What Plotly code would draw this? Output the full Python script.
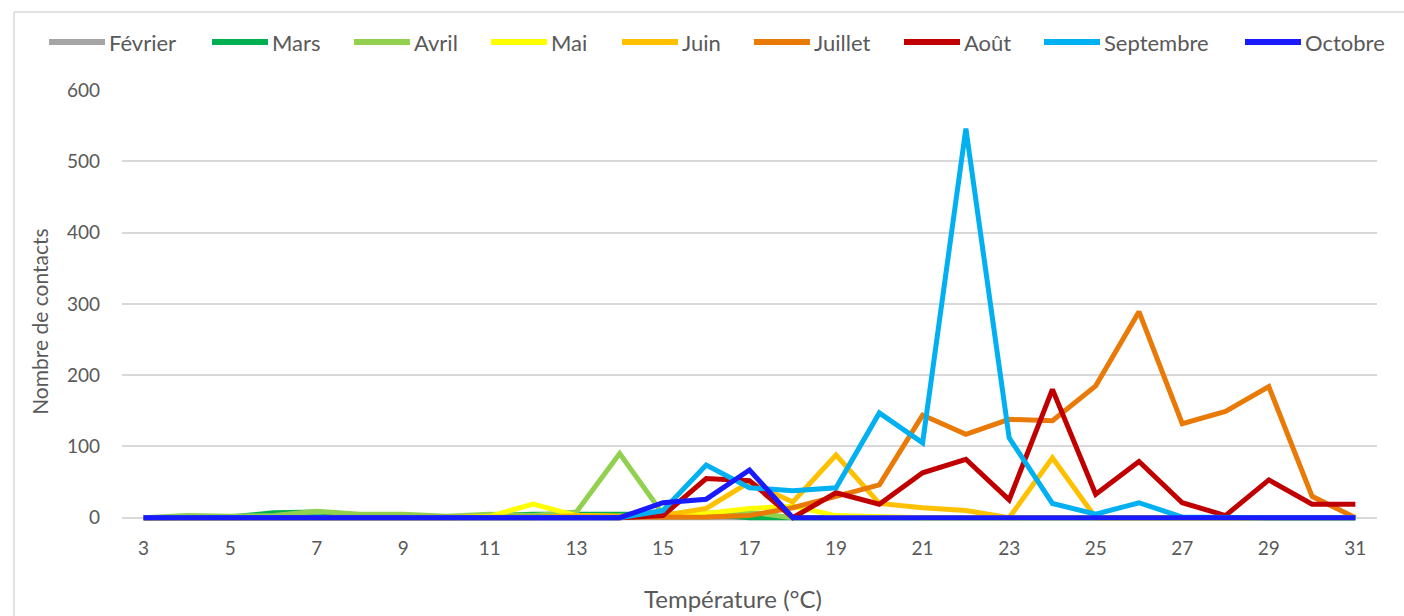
import plotly.graph_objects as go

temperatures = list(range(3, 32))

fevrier   = [0]*29
mars      = [0, 1, 1, 7, 8, 4, 3, 1, 3, 5, 5, 5, 5, 5, 0, 0, 0, 0, 0, 0, 0, 0, 0, 0, 0, 0, 0, 0, 0]
avril     = [0, 3, 2, 3, 9, 5, 5, 2, 5, 3, 8, 90, 5, 6, 8, 0, 0, 0, 0, 0, 0, 0, 0, 0, 0, 0, 0, 0, 0]
mai       = [0, 0, 1, 0, 0, 0, 0, 0, 2, 19, 3, 2, 3, 6, 13, 16, 3, 1, 0, 0, 0, 0, 0, 0, 0, 0, 0, 0, 0]
juin      = [0, 0, 0, 0, 0, 0, 0, 0, 0, 0, 3, 2, 3, 13, 50, 22, 88, 20, 14, 10, 0, 84, 0, 0, 0, 0, 0, 0, 0]
juillet   = [0, 0, 0, 0, 0, 0, 0, 0, 0, 0, 0, 0, 0, 1, 3, 14, 30, 46, 144, 117, 138, 136, 185, 289, 132, 149, 184, 30, 0]
aout      = [0, 0, 0, 0, 0, 0, 0, 0, 0, 0, 0, 0, 3, 55, 52, 0, 35, 19, 63, 82, 25, 180, 33, 79, 21, 3, 53, 19, 19]
septembre = [0, 0, 0, 0, 0, 0, 0, 0, 0, 0, 0, 0, 10, 74, 42, 38, 42, 147, 105, 546, 112, 20, 5, 21, 1, 0, 0, 0, 0]
octobre   = [0, 0, 0, 0, 0, 0, 0, 0, 0, 0, 0, 0, 21, 26, 67, 0, 0, 0, 0, 0, 0, 0, 0, 0, 0, 0, 0, 0, 0]

series_names = ["Février", "Mars", "Avril", "Mai", "Juin", "Juillet", "Août", "Septembre", "Octobre"]
series_values = [fevrier, mars, avril, mai, juin, juillet, aout, septembre, octobre]
series_colors = ["#A5A5A5", "#00B050", "#92D050", "#FFFF00", "#FFC000", "#E97A08", "#C00000", "#00B0F0", "#1A1AFF"]

x_ticks = list(range(3, 32, 2))
y_ticks = [0, 100, 200, 300, 400, 500, 600]

# ---- layout constants (page pixels of the reference) ----
legend_starts = [49, 212, 354, 491, 622, 754, 904, 1044, 1245]
LEG_LEN = 56
LEG_Y = 42

FONT = "Lato, Carlito, Calibri, sans-serif"
GREY = "#595959"

# plot area in page pixels: left 122, right 1377, top 90 (y=600), bottom 522.3 (y=-6)
PL, PR, PT, PB = 122, 1377, 90, 522.3
W, H = 1404, 616
def fx(px):
    return (px - PL) / (PR - PL)
def fy(py):
    return (PB - py) / (PB - PT)

fig = go.Figure()
for name, vals, col in zip(series_names, series_values, series_colors):
    fig.add_trace(go.Scatter(x=temperatures, y=vals, name=name, mode="lines",
                             line=dict(color=col, width=5)))

border = dict(color="#D9D9D9", width=1.5)
shapes = [
    dict(type="line", xref="paper", yref="paper", x0=fx(14), x1=fx(14),
         y0=fy(12), y1=fy(640), line=border, layer="below"),
    dict(type="line", xref="paper", yref="paper", x0=fx(14), x1=fx(1500),
         y0=fy(12), y1=fy(12), line=border, layer="below"),
]
annotations = [
    dict(text="Nombre de contacts", xref="paper", yref="paper",
         x=fx(40), y=fy(322), textangle=-90,
         showarrow=False, xanchor="center", yanchor="middle",
         font=dict(family=FONT, size=21, color=GREY)),
    dict(text="Température (°C)", xref="paper", yref="paper",
         x=fx(733), y=fy(599),
         showarrow=False, xanchor="center", yanchor="middle",
         font=dict(family=FONT, size=24, color=GREY)),
]
for name, col, x0 in zip(series_names, series_colors, legend_starts):
    shapes.append(dict(type="line", xref="paper", yref="paper",
                       x0=fx(x0), x1=fx(x0 + LEG_LEN), y0=fy(LEG_Y), y1=fy(LEG_Y),
                       line=dict(color=col, width=6)))
    annotations.append(dict(text=name, xref="paper", yref="paper",
                            x=fx(x0 + LEG_LEN + 2), y=fy(LEG_Y),
                            xanchor="left", yanchor="middle", showarrow=False,
                            font=dict(family=FONT, size=22, color=GREY)))

fig.update_layout(
    width=W, height=H,
    margin=dict(l=PL, r=W - PR, t=PT, b=H - PB, autoexpand=False),
    paper_bgcolor="white", plot_bgcolor="white",
    font=dict(family=FONT, size=19, color=GREY),
    showlegend=False,
    xaxis=dict(range=[2.5, 31.5], tickmode="array", tickvals=x_ticks,
               showgrid=False, zeroline=False, showline=False, automargin=False,
               ticks="", ticklabelstandoff=13,
               tickfont=dict(family=FONT, size=19, color=GREY)),
    yaxis=dict(range=[-6, 600], tickmode="array", tickvals=y_ticks,
               showgrid=True, gridcolor="#D9D9D9", gridwidth=1.5, automargin=False,
               zeroline=False, showline=False, ticks="", ticklabelstandoff=21,
               tickfont=dict(family=FONT, size=19, color=GREY)),
    annotations=annotations,
    shapes=shapes,
)

fig.write_html("out.html", config={"displayModeBar": False},
               post_script="document.body.style.margin='0';document.body.style.overflow='hidden';")
